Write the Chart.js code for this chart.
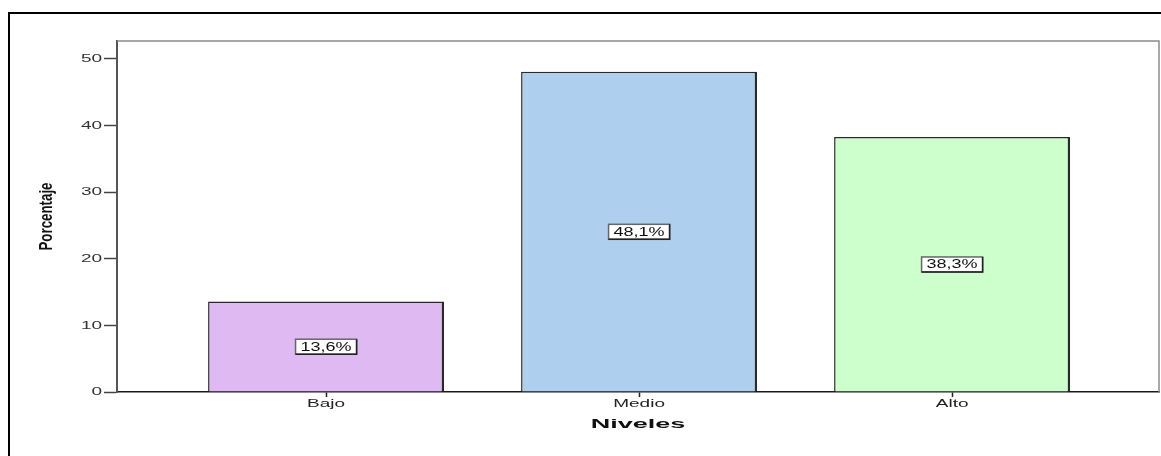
<!DOCTYPE html>
<html lang="es">
<head>
<meta charset="utf-8">
<title>Niveles</title>
<script src="https://cdn.jsdelivr.net/npm/chart.js@4/dist/chart.umd.min.js"></script>
<style>
    html, body { margin: 0; padding: 0; background: #fff; }
    #nivelesChart { display: block; }
</style>
</head>
<body>
<canvas id="nivelesChart" width="1161" height="456"></canvas>
<script>
// Porcentaje por nivel
const niveles = ['Bajo', 'Medio', 'Alto'];
const porcentajes = [13.6, 48.1, 38.3];
const etiquetas = ['13,6%', '48,1%', '38,3%'];
const colores = ['#DFB9F1', '#AECFEE', '#CCFFCC'];
const yTicks = [0, 10, 20, 30, 40, 50];

// Draw text squeezed or stretched horizontally (the old export font is very wide)
function drawScaledText(ctx, text, x, y, font, sx, align, color, rotate) {
    ctx.save();
    ctx.translate(x, y);
    if (rotate) ctx.rotate(rotate);
    ctx.scale(sx, 1);
    ctx.font = font;
    ctx.fillStyle = color || '#222';
    ctx.textAlign = align || 'center';
    ctx.textBaseline = 'middle';
    ctx.fillText(text, 0, 0);
    const w = ctx.measureText(text).width * sx;
    ctx.restore();
    return w;
}

const labelFont = '12px "Liberation Sans", Arial, sans-serif';

const framePlugin = {
    id: 'frame',
    beforeDraw(chart) {
        const ctx = chart.ctx;
        ctx.save();
        ctx.fillStyle = '#fff';
        ctx.fillRect(0, 0, chart.width, chart.height);
        // outer box, runs off the right and bottom edge
        ctx.strokeStyle = '#000';
        ctx.lineWidth = 2;
        ctx.strokeRect(9, 13, chart.width + 20, chart.height + 20);
        ctx.restore();
    },
    afterDatasetsDraw(chart) {
        const ctx = chart.ctx;
        const area = chart.chartArea;
        // light top/right border of the plot area
        ctx.save();
        ctx.strokeStyle = '#8c8c8c';
        ctx.lineWidth = 1.5;
        ctx.beginPath();
        ctx.moveTo(area.left, area.top);
        ctx.lineTo(area.right, area.top);
        ctx.lineTo(area.right, area.bottom);
        ctx.stroke();
        ctx.restore();

        // value boxes in the middle of each bar
        const meta = chart.getDatasetMeta(0);
        const yScale = chart.scales.y;
        meta.data.forEach((bar, i) => {
            const cx = bar.x;
            const cy = yScale.getPixelForValue(porcentajes[i] / 2);
            ctx.save();
            ctx.font = labelFont;
            const w = ctx.measureText(etiquetas[i]).width * 1.5 + 10;
            const h = 15;
            ctx.fillStyle = '#fff';
            ctx.fillRect(cx - w / 2, cy - h / 2, w, h);
            ctx.strokeStyle = '#666';
            ctx.lineWidth = 1.5;
            ctx.strokeRect(cx - w / 2, cy - h / 2, w, h);
            ctx.strokeStyle = '#222';
            ctx.beginPath();
            ctx.moveTo(cx + w / 2, cy - h / 2);
            ctx.lineTo(cx + w / 2, cy + h / 2);
            ctx.lineTo(cx - w / 2, cy + h / 2);
            ctx.stroke();
            ctx.restore();
            drawScaledText(ctx, etiquetas[i], cx, cy + 0.5, labelFont, 1.5, 'center', '#111');
        });
    },
    afterDraw(chart) {
        const ctx = chart.ctx;
        const xs = chart.scales.x;
        const ys = chart.scales.y;
        const area = chart.chartArea;
        const tickFont = '11.5px "Liberation Sans", Arial, sans-serif';

        ys.ticks.forEach(t => {
            drawScaledText(ctx, String(t.value), ys.right - 15, ys.getPixelForValue(t.value), tickFont, 1.65, 'right', '#333');
        });
        niveles.forEach((n, i) => {
            drawScaledText(ctx, n, xs.getPixelForValue(i), area.bottom + 12, tickFont, 1.65, 'center', '#222');
        });

        // axis titles
        drawScaledText(ctx, 'Niveles', (area.left + area.right) / 2, area.bottom + 32,
            'bold 13.5px "Liberation Sans", Arial, sans-serif', 2.0, 'center', '#111');
        drawScaledText(ctx, 'Porcentaje', 47, (area.top + area.bottom) / 2,
            'bold 19px "Liberation Sans", Arial, sans-serif', 0.7, 'center', '#111', -Math.PI / 2);
    }
};

document.addEventListener('DOMContentLoaded', () => {
    const ctx = document.getElementById('nivelesChart').getContext('2d');

    new Chart(ctx, {
        type: 'bar',
        data: {
            datasets: [{
                label: 'Porcentaje',
                data: porcentajes.map((v, i) => ({ x: i, y: v })),
                backgroundColor: colores,
                borderColor: '#2a2a2a',
                borderWidth: { top: 1.5, left: 1.5, right: 2.5, bottom: 0 },
                borderSkipped: 'bottom',
                barPercentage: 0.754,
                categoryPercentage: 1
            }]
        },
        options: {
            responsive: false,
            animation: false,
            layout: { padding: { top: 41, right: 2, left: 0, bottom: 0 } },
            plugins: {
                legend: { display: false },
                tooltip: { enabled: false }
            },
            scales: {
                x: {
                    type: 'linear',
                    min: -0.668,
                    max: 2.661,
                    offset: false,
                    afterBuildTicks: (scale) => {
                        scale.ticks = niveles.map((n, i) => ({ value: i }));
                    },
                    afterFit: (scale) => { scale.height = 64; },
                    ticks: { display: false },
                    grid: {
                        offset: false,
                        drawOnChartArea: false,
                        drawTicks: true,
                        tickLength: 5,
                        tickWidth: 1.5,
                        tickColor: '#222'
                    },
                    border: { color: '#1a1a1a', width: 1.5 }
                },
                y: {
                    min: 0,
                    max: 52.7,
                    afterBuildTicks: (scale) => {
                        scale.ticks = yTicks.map(v => ({ value: v }));
                    },
                    afterFit: (scale) => { scale.width = 117; },
                    ticks: { display: false },
                    grid: {
                        offset: false,
                        drawOnChartArea: false,
                        drawTicks: true,
                        tickLength: 13,
                        tickWidth: 1.5,
                        tickColor: '#444'
                    },
                    border: { color: '#555', width: 2 }
                }
            }
        },
        plugins: [framePlugin]
    });
});
</script>
</body>
</html>
